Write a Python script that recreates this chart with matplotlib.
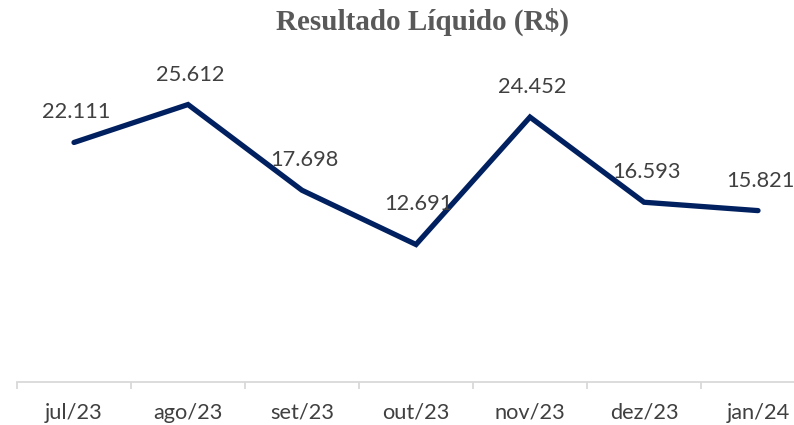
import matplotlib.pyplot as plt

# Resultado Líquido mensal (R$ mil)
months = ['jul/23', 'ago/23', 'set/23', 'out/23', 'nov/23', 'dez/23', 'jan/24']
values = [22.111, 25.612, 17.698, 12.691, 24.452, 16.593, 15.821]
labels = ['22.111', '25.612', '17.698', '12.691', '24.452', '16.593', '15.821']

fig = plt.figure(figsize=(7.94, 4.25), dpi=100)
# plot area runs a bit past the right edge, like the cropped original
ax = fig.add_axes([17 / 794, 43 / 425, 798 / 794, 325 / 425])

x = list(range(len(months)))
ax.plot(x, values, color='#002060', linewidth=3.8, solid_capstyle='round',
        solid_joinstyle='miter')

# data labels above each point
extra = {3: 11}
for i, (v, lab) in enumerate(zip(values, labels)):
    ax.annotate(lab, (i, v), xytext=(2, 24 + extra.get(i, 0)),
                textcoords='offset pixels', ha='center', va='baseline',
                fontsize=15.7, family='Lato', color='#404040')

ax.set_xlim(-0.5, len(months) - 0.5)
ax.set_ylim(0, 30)

for s in ['top', 'right', 'left']:
    ax.spines[s].set_visible(False)
ax.spines['bottom'].set_color('#D9D9D9')
ax.spines['bottom'].set_linewidth(1.3)
ax.set_yticks([])

# Excel-style ticks between categories
ax.set_xticks([i - 0.5 for i in range(len(months) + 1)])
ax.set_xticklabels([])
ax.tick_params(axis='x', which='major', length=5, width=1.3, color='#D9D9D9')
ax.set_xticks(x, minor=True)
ax.set_xticklabels(months, minor=True, fontsize=15.7, family='Lato', color='#404040')
ax.tick_params(axis='x', which='minor', length=0, pad=15)

fig.text(423 / 794, 1 - 30 / 425, 'Resultado Líquido (R$)', ha='center',
         va='baseline', fontsize=21, fontweight='bold',
         family='Liberation Serif', color='#595959')

fig.savefig('out.png', dpi=100)
